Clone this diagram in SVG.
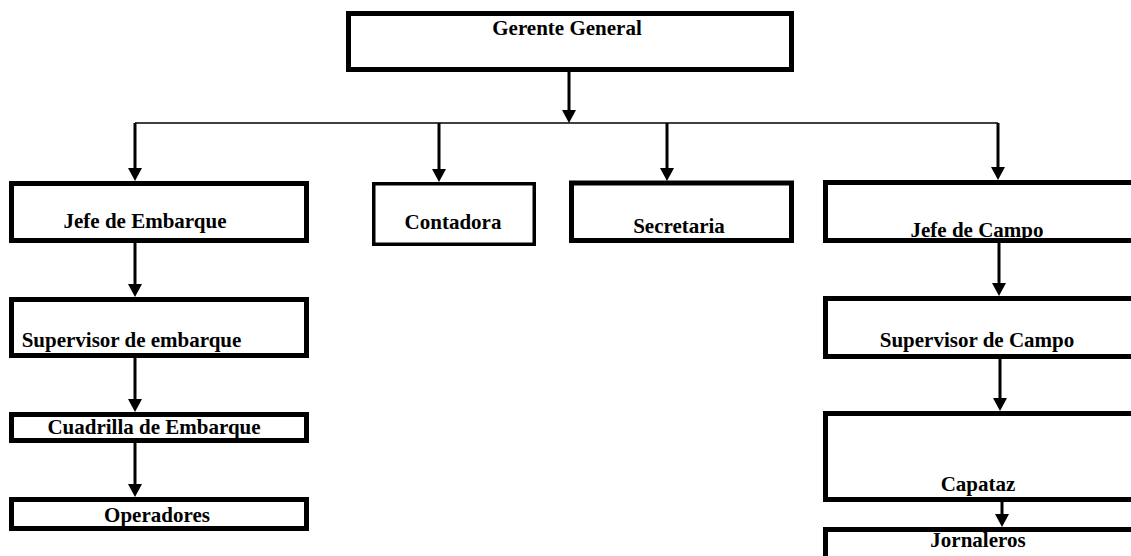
<svg xmlns="http://www.w3.org/2000/svg" width="1131" height="556" viewBox="0 0 1131 556">
<style>
.box{fill:#fff;stroke:#000;stroke-width:5}
.thin{stroke-width:3.5}
.lbl{font-family:"Liberation Serif","Times New Roman",serif;font-weight:bold;font-size:21px;fill:#000;text-anchor:middle}
.arr{fill:none;stroke:#000;stroke-width:3;marker-end:url(#ah)}
.bus{fill:none;stroke:#000;stroke-width:1.5}
</style>
<defs>
<marker id="ah" markerUnits="userSpaceOnUse" viewBox="0 0 13 14" refX="1" refY="7" markerWidth="13" markerHeight="14" orient="auto">
<path d="M0,0 L13,7 L0,14 z" fill="#000"/>
</marker>
</defs>
<rect width="1131" height="556" fill="#fff"/>
<g id="connectors">
<path class="arr" d="M569,72 V111"/>
<path class="bus" d="M135,123 H998"/>
<path class="arr" d="M135,123 V169"/>
<path class="arr" d="M439,123 V170"/>
<path class="arr" d="M667,123 V169"/>
<path class="arr" d="M998,123 V168"/>
<path class="arr" d="M135,243 V285"/>
<path class="arr" d="M135,358 V400"/>
<path class="arr" d="M135,443 V485"/>
<path class="arr" d="M999,243 V284"/>
<path class="arr" d="M1000,359 V399"/>
<path class="arr" d="M1002,502 V515"/>
</g>
<g id="gerente"><rect class="box" x="348.5" y="13.5" width="443" height="56"/><text class="lbl" x="567" y="35">Gerente General</text></g>
<g id="jefe-embarque"><rect class="box" x="11.5" y="183.5" width="295" height="57"/><text class="lbl" x="145" y="228">Jefe de Embarque</text></g>
<g id="contadora"><rect class="box thin" x="373.75" y="183.75" width="160.5" height="60.5"/><text class="lbl" x="453" y="229">Contadora</text></g>
<g id="secretaria"><rect class="box" x="571.5" y="183" width="220" height="57.5"/><text class="lbl" x="679" y="233">Secretaria</text></g>
<g id="jefe-campo"><rect class="box" x="825.5" y="182.5" width="320" height="58"/><text class="lbl" x="977" y="237">Jefe de Campo</text></g>
<g id="supervisor-embarque"><rect class="box" x="11.5" y="299.5" width="295" height="56"/><text class="lbl" x="131.5" y="347">Supervisor de embarque</text></g>
<g id="cuadrilla"><rect class="box" x="11.5" y="414.5" width="295" height="26"/><text class="lbl" x="154" y="434">Cuadrilla de Embarque</text></g>
<g id="operadores"><rect class="box" x="11.5" y="499.5" width="295" height="29"/><text class="lbl" x="157" y="522">Operadores</text></g>
<g id="supervisor-campo"><rect class="box" x="825.5" y="298.5" width="320" height="58"/><text class="lbl" x="977" y="347">Supervisor de Campo</text></g>
<g id="capataz"><rect class="box" x="825.5" y="413.5" width="320" height="86"/><text class="lbl" x="978" y="491">Capataz</text></g>
<g id="jornaleros"><rect class="box" x="825.5" y="529.5" width="320" height="40"/><text class="lbl" x="978" y="547">Jornaleros</text></g>
</svg>
